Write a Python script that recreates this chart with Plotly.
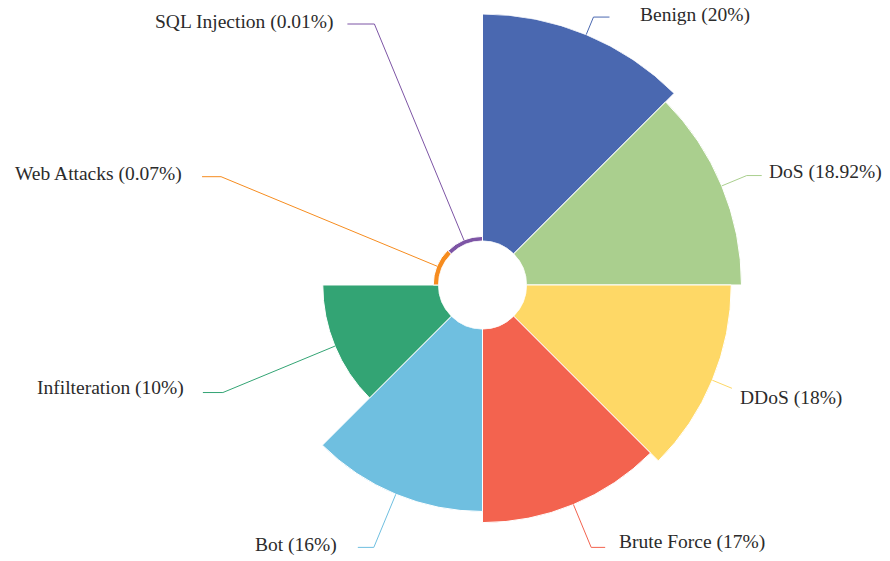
import math
import plotly.graph_objects as go

# Share of each traffic class (percent)
categories = ["Benign", "DoS", "DDoS", "Brute Force", "Bot",
              "Infilteration", "Web Attacks", "SQL Injection"]
shares = [20, 18.92, 18, 17, 16, 10, 0.07, 0.01]
share_text = ["20%", "18.92%", "18%", "17%", "16%", "10%", "0.07%", "0.01%"]

colors = ["#4A68B0", "#AACF8E", "#FED866", "#F3634F",
          "#6FBFE0", "#33A474", "#F68C1F", "#7D55A5"]

W, H = 890, 561
R_MAX = max(shares)
R_BASE = -0.4          # small floor so tiny classes stay visible
HOLE = 0.1624
DOM_X = [0.23764, 0.84663]
DOM_Y = [0.008913, 0.975045]

n = len(categories)
width = 360 / n
thetas = [width * (i + 0.5) for i in range(n)]

# leader-line styling per label: elbow radius (px), horizontal run, text gap, text dy
elbow_r = [290, 286, 270, 284, 284, 281, 283, 282.5]
h_run = [16, 15, 0, 14, 16, 20, 19, 27]
t_gap = [29, 5, 6, 12, 19, 17, 18, 11.5]
t_dy = [-2, -3.5, 10, -5, -2, -5, -3, -2]

fig = go.Figure()
fig.add_trace(go.Barpolar(
    r=[s - R_BASE for s in shares],
    base=[R_BASE] * n,
    theta=thetas,
    width=[width] * n,
    marker=dict(color=colors, line=dict(color="white", width=1)),
    hoverinfo="skip",
))

# polar geometry in pixels
cx = (DOM_X[0] + DOM_X[1]) / 2 * W
cy = (1 - (DOM_Y[0] + DOM_Y[1]) / 2) * H
R_px = min((DOM_X[1] - DOM_X[0]) * W, (DOM_Y[1] - DOM_Y[0]) * H) / 2
r0_px = HOLE * R_px


def r_to_px(v):
    return r0_px + (v - R_BASE) / (R_MAX - R_BASE) * (R_px - r0_px)


def to_paper(px, py):
    return px / W, 1 - py / H


shapes = []
annotations = []
for i in range(n):
    ang = math.radians(thetas[i])
    dx, dy = math.sin(ang), -math.cos(ang)
    r_out = r_to_px(shares[i])
    x1, y1 = cx + r_out * dx, cy + r_out * dy
    x2, y2 = cx + elbow_r[i] * dx, cy + elbow_r[i] * dy
    side = 1 if dx >= 0 else -1
    x3, y3 = x2 + side * h_run[i], y2
    p1, p2, p3 = to_paper(x1, y1), to_paper(x2, y2), to_paper(x3, y3)
    shapes.append(dict(
        type="path", xref="paper", yref="paper",
        path=f"M {p1[0]} {p1[1]} L {p2[0]} {p2[1]} L {p3[0]} {p3[1]}",
        line=dict(color=colors[i], width=1),
    ))
    tx, ty = to_paper(x3 + side * t_gap[i], y3 + t_dy[i])
    annotations.append(dict(
        x=tx, y=ty, xref="paper", yref="paper",
        text=f"{categories[i]} ({share_text[i]})",
        showarrow=False,
        xanchor="left" if side > 0 else "right", yanchor="middle",
        font=dict(family="Liberation Serif", size=19.5, color="#2b2b2b"),
    ))

fig.update_layout(
    width=W, height=H,
    margin=dict(l=0, r=0, t=0, b=0),
    paper_bgcolor="white",
    showlegend=False,
    polar=dict(
        domain=dict(x=DOM_X, y=DOM_Y),
        hole=HOLE,
        bgcolor="white",
        radialaxis=dict(range=[R_BASE, R_MAX], visible=False, showgrid=False),
        angularaxis=dict(rotation=90, direction="clockwise", visible=False,
                         showgrid=False),
        barmode="overlay",
    ),
    shapes=shapes,
    annotations=annotations,
)

fig.write_html("out.html")
